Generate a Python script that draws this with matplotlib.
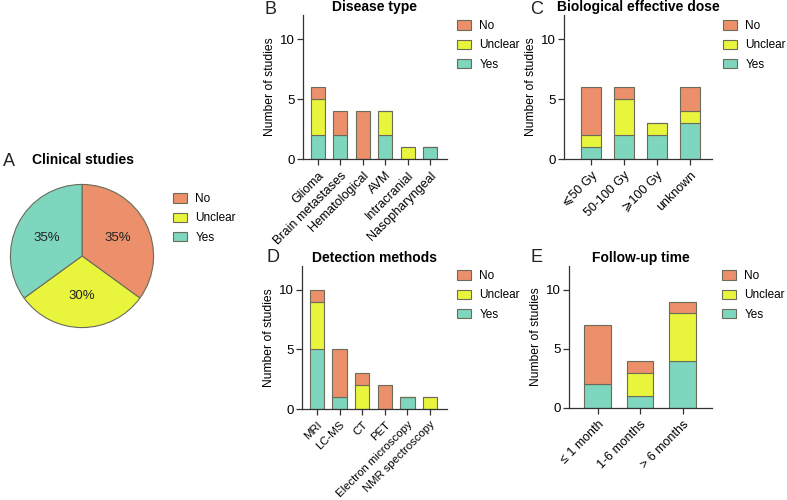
import numpy as np
import matplotlib
matplotlib.use("Agg")
import matplotlib.pyplot as plt
from matplotlib.patches import Patch

plt.rcParams['font.family'] = ['Liberation Sans', 'DejaVu Sans']

W, H = 787, 500

c_no = '#EB906A'
c_unclear = '#E9F53D'
c_yes = '#7FD6BE'
edge = '#6b6b5a'

# Pie (A)
pie_labels = ['No', 'Unclear', 'Yes']
pie_values = [35, 30, 35]

# B - Disease type
b_cats = ['Glioma', 'Brain metastases', 'Hematological', 'AVM', 'Intracranial', 'Nasopharyngeal']
b_yes = [2, 2, 0, 2, 0, 1]
b_unclear = [3, 0, 0, 2, 1, 0]
b_no = [1, 2, 4, 0, 0, 0]

# C - Biological effective dose
c_cats = ['⩽50 Gy', '50-100 Gy', '⩾100 Gy', 'unknown']
c_yes_v = [1, 2, 2, 3]
c_unclear_v = [1, 3, 1, 1]
c_no_v = [4, 1, 0, 2]

# D - Detection methods
d_cats = ['MRI', 'LC-MS', 'CT', 'PET', 'Electron microscopy', 'NMR spectroscopy']
d_yes = [5, 1, 0, 0, 1, 0]
d_unclear = [4, 0, 2, 0, 0, 1]
d_no = [1, 4, 1, 2, 0, 0]

# E - Follow-up time
e_cats = ['≤ 1 month', '1-6 months', '> 6 months']
e_yes = [2, 1, 4]
e_unclear = [0, 2, 4]
e_no = [5, 1, 1]


def rect(x0, y0, x1, y1):
    return [x0 / W, 1 - y1 / H, (x1 - x0) / W, (y1 - y0) / H]


fig = plt.figure(figsize=(W / 100, H / 100), dpi=100)


def legend_at(x, y):
    handles = [Patch(facecolor=c, edgecolor=edge, linewidth=0.8) for c in (c_no, c_unclear, c_yes)]
    fig.legend(handles, ['No', 'Unclear', 'Yes'], loc='upper left',
               bbox_to_anchor=(x / W, 1 - y / H), frameon=False, fontsize=8.5,
               handlelength=1.2, handleheight=0.85, labelspacing=0.62,
               handletextpad=0.7, borderpad=0, borderaxespad=0)


def stacked(rc, cats, yes, unclear, no, xlim, title, letter, lx, ty, xfs=9):
    ax = fig.add_axes(rect(*rc))
    x = np.arange(len(cats))
    yes = np.array(yes)
    unclear = np.array(unclear)
    no = np.array(no)
    kw = dict(width=0.63, edgecolor=edge, linewidth=0.8)
    ax.bar(x, yes, color=c_yes, **kw)
    ax.bar(x, unclear, bottom=yes, color=c_unclear, **kw)
    ax.bar(x, no, bottom=yes + unclear, color=c_no, **kw)
    ax.set_ylim(0, 12)
    ax.set_xlim(*xlim)
    ax.set_yticks([0, 5, 10])
    ax.set_xticks(x)
    ax.set_xticklabels(cats, rotation=45, ha='right', rotation_mode='anchor', fontsize=xfs)
    ax.tick_params(axis='y', labelsize=9.5, length=4, width=0.9, color='#333333', pad=2)
    ax.tick_params(axis='x', length=4, width=0.9, color='#333333')
    for s in ('top', 'right'):
        ax.spines[s].set_visible(False)
    for s in ('left', 'bottom'):
        ax.spines[s].set_color('#333333')
        ax.spines[s].set_linewidth(0.9)
    ax.set_ylabel('Number of studies', fontsize=8.7, labelpad=3)
    ax.set_title(title, fontsize=10, fontweight='bold', pad=0, y=1.028)
    fig.text(lx / W, 1 - ty / H, letter, fontsize=13, va='center', ha='left', color='#222222')
    return ax


stacked((303, 15, 447, 159), b_cats, b_yes, b_unclear, b_no, (-0.67, 5.76),
        'Disease type', 'B', 264, 10)
legend_at(457, 20)

stacked((564, 15, 712, 159), c_cats, c_yes_v, c_unclear_v, c_no_v, (-0.82, 3.67),
        'Biological effective dose', 'C', 530, 10)
legend_at(723, 20)

stacked((302, 266, 447, 409), d_cats, d_yes, d_unclear, d_no, (-0.66, 5.75),
        'Detection methods', 'D', 266, 258, xfs=8.2)
legend_at(457, 270)

stacked((569, 266, 712, 408), e_cats, e_yes, e_unclear, e_no, (-0.67, 2.69),
        'Follow-up time', 'E', 530, 257)
legend_at(722, 270)

# Pie
axp = fig.add_axes(rect(9, 183, 155, 329))
axp.pie(pie_values, colors=[c_no, c_unclear, c_yes], startangle=90, counterclock=False,
        autopct='%d%%', pctdistance=0.56, radius=1,
        wedgeprops=dict(edgecolor=edge, linewidth=0.8),
        textprops=dict(fontsize=9.5, color='#222222'))
axp.set_aspect('equal')
axp.set_xlim(-1.02, 1.02)
axp.set_ylim(-1.02, 1.02)
fig.text(32 / W, 1 - 160 / H, 'Clinical studies', fontsize=10, fontweight='bold', va='center')
fig.text(3 / W, 1 - 161 / H, 'A', fontsize=13, va='center', color='#222222')
legend_at(173, 193)

fig.savefig('out.png', dpi=100)
